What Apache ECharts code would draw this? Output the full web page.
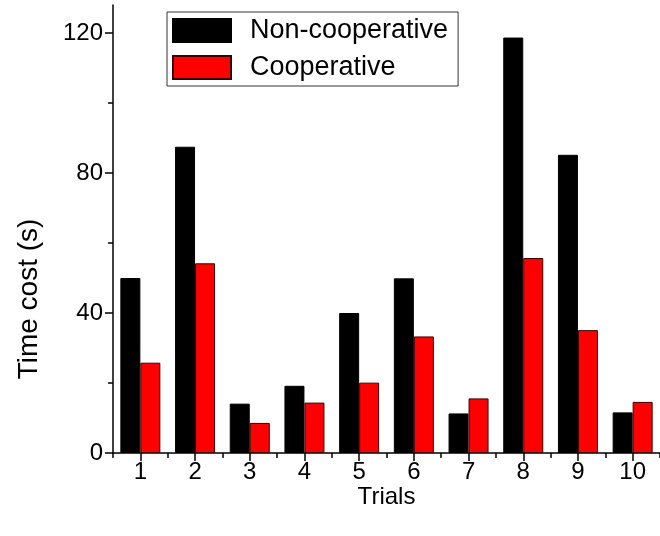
<!DOCTYPE html>
<html>
<head>
<meta charset="utf-8">
<script src="https://cdn.jsdelivr.net/npm/echarts@6/dist/echarts.min.js"></script>
<style>
html,body{margin:0;padding:0;background:#fff;}
#c{width:660px;height:536px;}
</style>
</head>
<body>
<div id="c"></div>
<script>
var categories = ['1','2','3','4','5','6','7','8','9','10'];
var nonCooperative = [50, 87.5, 14.1, 19.2, 40, 49.9, 11.3, 118.7, 85.2, 11.6];
var cooperative = [25.8, 54.2, 8.6, 14.4, 20.1, 33.3, 15.6, 55.7, 35.1, 14.6];
var yTicks = [0, 40, 80, 120];

var FONT = '"Liberation Sans", Arial, Helvetica, sans-serif';
var chart = echarts.init(document.getElementById('c'), null, {renderer: 'canvas'});

var gridLeft = 113, gridWidth = 553, plotBottom = 453;
var pxPerUnit = 3.5;
var axisTop = plotBottom - 128 * pxPerUnit;
var tickTop = plotBottom - yTicks[yTicks.length - 1] * pxPerUnit;

chart.setOption({
  animation: false,
  backgroundColor: '#fff',
  textStyle: {fontFamily: FONT},
  grid: [
    {left: gridLeft, width: gridWidth, top: axisTop, height: plotBottom - axisTop, containLabel: false},
    {left: gridLeft, width: gridWidth, top: tickTop, height: plotBottom - tickTop, containLabel: false}
  ],
  legend: {
    orient: 'vertical',
    left: 167, top: 12,
    padding: [5, 10, 5, 5],
    itemWidth: 58, itemHeight: 23, itemGap: 10,
    borderColor: '#333', borderWidth: 1,
    icon: 'rect',
    textStyle: {fontFamily: FONT, fontSize: 27, color: '#000', lineHeight: 23, padding: [0, 0, 0, 14]},
    data: ['Non-cooperative', 'Cooperative']
  },
  xAxis: [
    {
      type: 'category', gridIndex: 0, data: categories,
      axisLine: {show: true, lineStyle: {color: '#000', width: 1.5}},
      axisTick: {show: true, alignWithLabel: true, length: 8, lineStyle: {color: '#000', width: 1.5}},
      axisLabel: {fontFamily: FONT, fontSize: 24, color: '#000', margin: 7},
      splitLine: {show: false},
      name: 'Trials', nameLocation: 'middle', nameGap: 32, nameMoveOverlap: false,
      nameTextStyle: {fontFamily: FONT, fontSize: 24, color: '#000'}
    },
    {
      type: 'category', gridIndex: 1, data: categories,
      axisLine: {show: false},
      axisTick: {show: true, alignWithLabel: false, length: 5, lineStyle: {color: '#000', width: 1.5}},
      axisLabel: {show: false},
      splitLine: {show: false}
    }
  ],
  yAxis: [
    {
      type: 'value', gridIndex: 0, min: 0, max: 128,
      axisLine: {show: true, lineStyle: {color: '#000', width: 1.5}},
      axisTick: {show: false}, axisLabel: {show: false}, splitLine: {show: false}
    },
    {
      type: 'value', gridIndex: 1, min: yTicks[0], max: yTicks[yTicks.length - 1], interval: 40,
      axisLine: {show: false},
      axisTick: {show: true, length: 8, lineStyle: {color: '#000', width: 1.5}},
      minorTick: {show: true, splitNumber: 2, length: 5, lineStyle: {color: '#000', width: 1.5}},
      axisLabel: {fontFamily: FONT, fontSize: 24, color: '#000', margin: 10},
      splitLine: {show: false},
      name: 'Time cost (s)', nameLocation: 'middle', nameGap: 70, nameRotate: 90, nameMoveOverlap: false,
      nameTextStyle: {fontFamily: FONT, fontSize: 28, color: '#000', padding: [0, 112, 0, 0]}
    }
  ],
  series: [
    {
      name: 'Non-cooperative', type: 'bar', xAxisIndex: 0, yAxisIndex: 0,
      data: nonCooperative, barWidth: 20, barGap: '0%',
      itemStyle: {color: '#000000', borderColor: '#000000', borderWidth: 1}
    },
    {
      name: 'Cooperative', type: 'bar', xAxisIndex: 0, yAxisIndex: 0,
      data: cooperative, barWidth: 20, barGap: '0%',
      itemStyle: {color: '#ff0000', borderColor: '#3a0000', borderWidth: 1}
    }
  ]
});
</script>
</body>
</html>
